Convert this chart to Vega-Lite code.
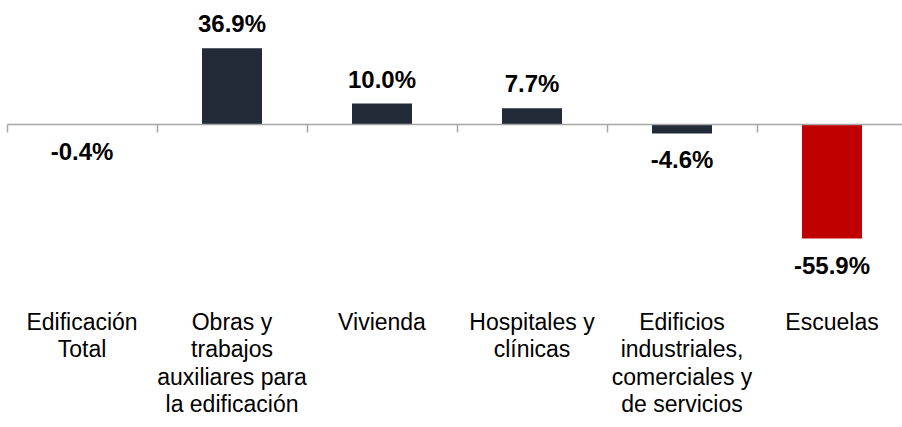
{
  "$schema": "https://vega.github.io/schema/vega-lite/v6.json",
  "width": 900,
  "height": 248,
  "autosize": {"type": "none"},
  "padding": {"left": 7, "top": 0, "right": 0, "bottom": 179},
  "background": "white",
  "config": {
    "view": {"stroke": null},
    "locale": {"number": {"decimal": ".", "thousands": ",", "grouping": [3], "currency": ["$", ""], "minus": "-"}}
  },
  "data": {
    "values": [
      {"cat": "Edificación|Total", "value": -0.004, "group": "normal"},
      {"cat": "Obras y|trabajos|auxiliares para|la edificación", "value": 0.369, "group": "normal"},
      {"cat": "Vivienda", "value": 0.100, "group": "normal"},
      {"cat": "Hospitales y|clínicas", "value": 0.077, "group": "normal"},
      {"cat": "Edificios|industriales,|comerciales y|de servicios", "value": -0.046, "group": "normal"},
      {"cat": "Escuelas", "value": -0.559, "group": "highlight"}
    ]
  },
  "resolve": {"axis": {"x": "independent"}},
  "layer": [
    {
      "mark": {"type": "bar", "size": 60},
      "encoding": {
        "x": {
          "field": "cat", "type": "nominal", "sort": null,
          "scale": {"paddingInner": 0, "paddingOuter": 0},
          "axis": {
            "orient": "bottom", "offset": -124, "title": null, "labels": false,
            "tickBand": "extent", "tickSize": 8, "tickColor": "#a6a6a6", "domainColor": "#a6a6a6",
            "domainWidth": 1.5, "tickWidth": 1.5, "grid": false, "zindex": 1
          }
        },
        "y": {
          "field": "value", "type": "quantitative",
          "scale": {"domain": [-0.605, 0.605], "nice": false, "zero": true},
          "axis": null
        },
        "color": {
          "field": "group", "type": "nominal",
          "scale": {"domain": ["normal", "highlight"], "range": ["#232b38", "#c00000"]},
          "legend": null
        }
      }
    },
    {
      "transform": [{"filter": "datum.value >= 0"}],
      "mark": {"type": "text", "baseline": "alphabetic", "align": "center", "dy": -16, "font": "Liberation Sans", "fontWeight": "bold", "fontSize": 24, "color": "#000000"},
      "encoding": {
        "x": {
          "field": "cat", "type": "nominal", "sort": null,
          "axis": {
            "orient": "bottom", "title": null, "domain": false, "ticks": false, "tickSize": 0,
            "labelPadding": 63, "labelAngle": 0, "labelAlign": "center", "labelBaseline": "top",
            "labelExpr": "split(datum.label, '|')", "labelFont": "Liberation Sans",
            "labelFontSize": 23, "labelLineHeight": 27.5, "labelColor": "#000000", "labelLimit": 0, "grid": false
          }
        },
        "y": {"field": "value", "type": "quantitative"},
        "text": {"field": "value", "type": "quantitative", "format": ".1%"}
      }
    },
    {
      "transform": [{"filter": "datum.value < 0"}],
      "mark": {"type": "text", "baseline": "top", "align": "center", "dy": 16, "font": "Liberation Sans", "fontWeight": "bold", "fontSize": 24, "color": "#000000"},
      "encoding": {
        "x": {"field": "cat", "type": "nominal", "sort": null, "axis": null},
        "y": {"field": "value", "type": "quantitative"},
        "text": {"field": "value", "type": "quantitative", "format": ".1%"}
      }
    }
  ]
}
